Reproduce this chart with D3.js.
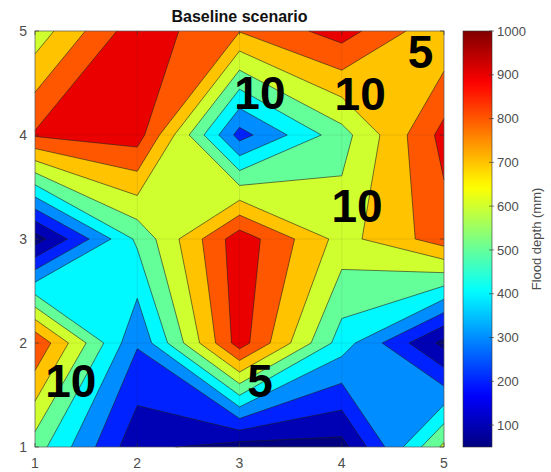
<!DOCTYPE html>
<html>
<head>
<meta charset="utf-8">
<script src="https://cdn.jsdelivr.net/npm/d3@7"></script>
<style>
  body { margin: 0; background: #fff; }
  svg { display: block; font-family: Arial, "Liberation Sans", sans-serif; }
</style>
</head>
<body>
<svg id="chart" width="551" height="472"></svg>
<script>
// grid positions
const xValues = [1, 2, 3, 4, 5];
const yValues = [1, 2, 3, 4, 5];
// flood depth (mm), one row per y value, bottom row first
const depthY1 = [550, 127, 55, 62, 625];
const depthY2 = [890, 310, 950, 450, 70];
const depthY3 = [52, 520, 961, 662, 854];
const depthY4 = [912, 950, 260, 560, 935];
const depthY5 = [640, 965, 805, 945, 715];
const depthRows = [depthY1, depthY2, depthY3, depthY4, depthY5];

const levels = [100, 200, 300, 400, 500, 600, 700, 800, 900];
const colorLimits = [50, 1000];
const colorbarTicks = [100, 200, 300, 400, 500, 600, 700, 800, 900, 1000];
const axisTicks = [1, 2, 3, 4, 5];

// big numbers written on the map
const noteText = ["10", "10", "5", "10", "10", "5"];
const noteX = [3.2, 4.18, 4.77, 4.15, 1.35, 3.2];
const noteY = [4.25, 4.24, 4.64, 3.16, 1.48, 1.48];

const svg = d3.select("#chart");
const x = d3.scaleLinear().domain([1, 5]).range([35, 444]);
const y = d3.scaleLinear().domain([1, 5]).range([447, 31]);

function jet(t) {
  t = Math.max(0, Math.min(1, t));
  const c = v => Math.round(255 * Math.max(0, Math.min(1, v)));
  return `rgb(${c(1.5 - Math.abs(4 * t - 3))},${c(1.5 - Math.abs(4 * t - 2))},${c(1.5 - Math.abs(4 * t - 1))})`;
}
const color = d3.scaleSequential(jet).domain(colorLimits);

// marching squares for one cell, saddles decided by the cell mean
function cellPieces(i, j, level) {
  const c = [[i, j], [i + 1, j], [i + 1, j + 1], [i, j + 1]]
    .map(([a, b]) => ({ x: xValues[a], y: yValues[b], z: depthRows[b][a] }));
  const up = c.map(p => p.z >= level);
  const nUp = up.filter(Boolean).length;
  if (nUp === 0) return [];
  const cross = (p, q) => {
    const f = (level - p.z) / (q.z - p.z);
    return { x: p.x + f * (q.x - p.x), y: p.y + f * (q.y - p.y), cross: true };
  };
  const rings = [];
  const saddle = nUp === 2 && up[0] === up[2];
  if (saddle && d3.mean(c, p => p.z) < level) {
    for (let k = 0; k < 4; k++) {
      if (!up[k]) continue;
      const prev = c[(k + 3) % 4], next = c[(k + 1) % 4];
      rings.push([c[k], cross(c[k], next), cross(prev, c[k])]);
    }
  } else {
    const ring = [];
    for (let k = 0; k < 4; k++) {
      const p = c[k], q = c[(k + 1) % 4];
      if (up[k]) ring.push(p);
      if (up[k] !== up[(k + 1) % 4]) ring.push(cross(p, q));
    }
    rings.push(ring);
  }
  return rings;
}

const line = d3.line().x(p => x(p.x)).y(p => y(p.y));

const plot = svg.append("g");

// lowest band
plot.append("rect")
  .attr("x", x(1)).attr("y", y(5))
  .attr("width", x(5) - x(1)).attr("height", y(1) - y(5))
  .attr("fill", color(colorLimits[0]));

const lineSegs = [];
levels.forEach(level => {
  let d = "";
  for (let i = 0; i < xValues.length - 1; i++) {
    for (let j = 0; j < yValues.length - 1; j++) {
      cellPieces(i, j, level).forEach(ring => {
        d += line(ring) + "Z";
        for (let k = 0; k < ring.length; k++) {
          const a = ring[k], b = ring[(k + 1) % ring.length];
          if (a.cross && b.cross) lineSegs.push([a, b]);
        }
      });
    }
  }
  plot.append("path").attr("d", d).attr("fill", color(level));
});

// grid
const grid = svg.append("g").attr("stroke", "#262626").attr("stroke-opacity", 0.15).attr("stroke-width", 0.6);
axisTicks.slice(1, -1).forEach(t => {
  grid.append("line").attr("x1", x(t)).attr("x2", x(t)).attr("y1", y(1)).attr("y2", y(5));
  grid.append("line").attr("x1", x(1)).attr("x2", x(5)).attr("y1", y(t)).attr("y2", y(t));
});

// contour lines
svg.append("path")
  .attr("d", lineSegs.map(s => line(s)).join(""))
  .attr("fill", "none")
  .attr("stroke", "#1e1e1e")
  .attr("stroke-opacity", 0.85)
  .attr("stroke-width", 0.7);

// frame and ticks
svg.append("rect")
  .attr("x", x(1)).attr("y", y(5))
  .attr("width", x(5) - x(1)).attr("height", y(1) - y(5))
  .attr("fill", "none").attr("stroke", "#555").attr("stroke-width", 0.7);

const tickG = svg.append("g").attr("stroke", "#333").attr("stroke-width", 0.6);
axisTicks.forEach(t => {
  tickG.append("line").attr("x1", x(t)).attr("x2", x(t)).attr("y1", y(1)).attr("y2", y(1) - 4);
  tickG.append("line").attr("x1", x(t)).attr("x2", x(t)).attr("y1", y(5)).attr("y2", y(5) + 4);
  tickG.append("line").attr("x1", x(1)).attr("x2", x(1) + 4).attr("y1", y(t)).attr("y2", y(t));
  tickG.append("line").attr("x1", x(5)).attr("x2", x(5) - 4).attr("y1", y(t)).attr("y2", y(t));
});

svg.append("g").selectAll("text").data(axisTicks).enter().append("text")
  .attr("x", d => x(d)).attr("y", 468)
  .attr("text-anchor", "middle")
  .attr("font-size", 14).attr("fill", "#4d4d4d")
  .text(d => d);

svg.append("g").selectAll("text").data(axisTicks).enter().append("text")
  .attr("x", 27).attr("y", d => y(d)).attr("dy", "0.36em")
  .attr("text-anchor", "end")
  .attr("font-size", 14).attr("fill", "#4d4d4d")
  .text(d => d);

// title
svg.append("text")
  .attr("x", (x(1) + x(5)) / 2).attr("y", 22)
  .attr("text-anchor", "middle")
  .attr("font-size", 16).attr("font-weight", "bold").attr("fill", "#111")
  .text("Baseline scenario");

// big annotations
svg.append("g").selectAll("text").data(noteText).enter().append("text")
  .attr("x", (d, i) => x(noteX[i])).attr("y", (d, i) => y(noteY[i]))
  .attr("text-anchor", "middle")
  .attr("font-size", 46).attr("font-weight", "bold").attr("fill", "#000")
  .text(d => d);

// colorbar
const cb = d3.scaleLinear().domain(colorLimits).range([447, 31]);
const cbX = 463, cbW = 29;
const grad = svg.append("defs").append("linearGradient")
  .attr("id", "jetGrad").attr("x1", 0).attr("y1", 1).attr("x2", 0).attr("y2", 0);
d3.range(0, 1.0001, 0.02).forEach(t => {
  grad.append("stop").attr("offset", t)
    .attr("stop-color", color(colorLimits[0] + t * (colorLimits[1] - colorLimits[0])));
});
svg.append("rect")
  .attr("x", cbX).attr("y", cb(colorLimits[1]))
  .attr("width", cbW).attr("height", cb(colorLimits[0]) - cb(colorLimits[1]))
  .attr("fill", "url(#jetGrad)")
  .attr("stroke", "#333").attr("stroke-width", 0.6);

const cbTicks = svg.append("g");
colorbarTicks.forEach(t => {
  cbTicks.append("line")
    .attr("x1", cbX + cbW - 3).attr("x2", cbX + cbW + 2)
    .attr("y1", cb(t)).attr("y2", cb(t))
    .attr("stroke", "#333").attr("stroke-width", 0.6);
  cbTicks.append("text")
    .attr("x", cbX + cbW + 5).attr("y", cb(t)).attr("dy", "0.36em")
    .attr("font-size", 13).attr("fill", "#4d4d4d")
    .text(t);
});

svg.append("text")
  .attr("transform", `translate(541,${(cb(colorLimits[0]) + cb(colorLimits[1])) / 2}) rotate(-90)`)
  .attr("text-anchor", "middle")
  .attr("font-size", 13).attr("fill", "#4d4d4d")
  .text("Flood depth (mm)");
</script>
</body>
</html>
